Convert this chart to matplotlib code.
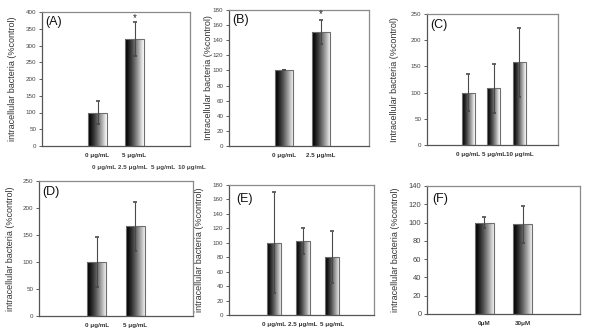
import numpy as np
import matplotlib
matplotlib.use("Agg")
import matplotlib.pyplot as plt

plt.rcParams['font.family'] = ['Liberation Sans', 'DejaVu Sans']

# --------------------------
# DATA
# --------------------------
A_labels = ['0 μg/mL', '5 μg/mL']
A_vals = [100, 320]
A_err = [35, 50]

B_labels = ['0 μg/mL', '2.5 μg/mL']
B_vals = [100, 151]
B_err = [0, 16]

C_labels = ['0 μg/mL', '5 μg/mL', '10 μg/mL']
C_vals = [100, 108, 158]
C_err = [35, 46, 66]

D_labels = ['0 μg/mL', '5 μg/mL']
D_vals = [100, 166]
D_err = [47, 45]

E_labels = ['0 μg/mL', '2.5 μg/mL', '5 μg/mL']
E_vals = [100, 103, 81]
E_err = [70, 18, 36]

F_labels = ['0μM', '30μM']
F_vals = [100, 98]
F_err = [6, 20]

stray_labels = ['0 μg/mL', '2.5 μg/mL', '5 μg/mL', '10 μg/mL']

# --------------------------
# LAYOUT (pixels, y from top)
# --------------------------
W, H = 600, 331
fig = plt.figure(figsize=(6, 3.31), dpi=100)

panels = [
    # name, labels, vals, err, box(l, r, t, b), xlim, ymax, ystep, ylabel, ylabel_x, letter_xy, star, ticksize
    ('(A)', A_labels, A_vals, A_err, (42, 190, 12, 146), (-1.5, 2.5), 400, 50,
     'intracellular bacteria (%control)', 17, (45, 22), 383, 4.5),
    ('(B)', B_labels, B_vals, B_err, (229, 369, 10, 146), (-1.5, 2.3), 180, 20,
     'Intracellular bacteria (%control)', 213, (232, 20), 175, 4.5),
    ('(C)', C_labels, C_vals, C_err, (427, 558, 14, 145), (-1.6, 3.5), 250, 50,
     'Intracellular bacteria (%control)', 399, (430, 25), None, 4.5),
    ('(D)', D_labels, D_vals, D_err, (39, 193, 181, 316), (-1.5, 2.5), 250, 50,
     'intracellular bacteria (%control)', 15, (42, 192), None, 4.5),
    ('(E)', E_labels, E_vals, E_err, (229, 374, 185, 315), (-1.55, 3.45), 180, 20,
     'intracellular bacteria (%control)', 204, (236, 199), None, 4.5),
    ('(F)', F_labels, F_vals, F_err, (427, 580, 186, 314), (-1.5, 2.5), 140, 20,
     'intracellular bacteria (%control)', 400, (432, 199), None, 5.5),
]

grad = np.linspace(0, 1, 64)[None, :] ** 1.3

for name, labels, vals, err, box, xlim, ymax, ystep, ylab, ylx, lxy, star, tsz in panels:
    l, r, t, b = box
    ax = fig.add_axes([l / W, 1 - b / H, (r - l) / W, (b - t) / H])
    x = np.arange(len(vals))
    bars = ax.bar(x, vals, 0.5, facecolor='none', edgecolor='#6e6e6e', lw=0.8, zorder=3)
    for bar in bars:
        x0, y0 = bar.get_x(), bar.get_y()
        im = ax.imshow(grad, extent=(x0, x0 + bar.get_width(), y0, y0 + bar.get_height()),
                       aspect='auto', cmap='gray', vmin=0, vmax=1, zorder=2,
                       interpolation='bilinear')
        im.set_clip_path(bar)
    ax.errorbar(x, vals, yerr=err, fmt='none', ecolor='#4a4a4a', elinewidth=0.8,
                capsize=1.5, capthick=1.2, zorder=4)
    if star is not None:
        ax.text(1, star, '*', ha='center', va='center', fontsize=7, color='#222222')
    ax.set_xlim(*xlim)
    ax.set_ylim(0, ymax)
    ax.set_yticks(np.arange(0, ymax + 1, ystep))
    ax.set_xticks(x)
    ax.set_xticklabels(labels, fontsize=4.5, fontweight='bold', color='#333333')
    ax.tick_params(axis='x', length=0, pad=5)
    ax.tick_params(axis='y', labelsize=tsz, length=2, width=0.6, pad=2,
                   colors='#444444')
    for s in ax.spines.values():
        s.set_color('#8a8a8a')
        s.set_linewidth(0.9)
    ax.spines['left'].set_color('#555555')
    ax.spines['bottom'].set_color('#555555')
    ax.set_ylabel(ylab, fontsize=6.5, color='#333333')
    ax.yaxis.set_label_coords((ylx - l) / (r - l), 0.5)
    fig.text(lxy[0] / W, 1 - lxy[1] / H, name, fontsize=9, ha='left', va='center',
             color='#111111')

# stray row of labels under panel A
for xc, s in zip([104, 133, 163, 192], stray_labels):
    fig.text(xc / W, 1 - 168 / H, s, fontsize=4.5, ha='center', va='center',
             color='#444444', fontweight='bold')

fig.savefig('out.png', dpi=100)
